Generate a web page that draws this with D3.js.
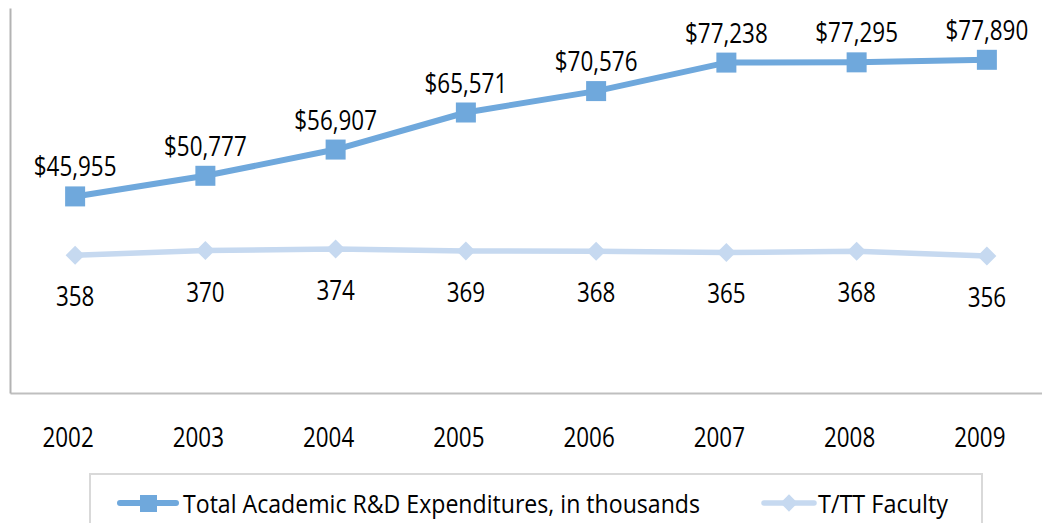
<!DOCTYPE html>
<html>
<head>
<meta charset="utf-8">
<script src="https://cdn.jsdelivr.net/npm/d3@7"></script>
<style>
  html, body { margin: 0; padding: 0; background: #fff; overflow: hidden; }
  svg { display: block; }
  text { font-family: "Open Sans", Lato, sans-serif; fill: #000; }
</style>
</head>
<body>
<svg id="chart" width="1042" height="523"></svg>
<script>
// Academic R&D spending vs tenured / tenure-track faculty, 2002-2009
const years = ["2002", "2003", "2004", "2005", "2006", "2007", "2008", "2009"];
const rdExpenditures = [45955, 50777, 56907, 65571, 70576, 77238, 77295, 77890];
const faculty = [358, 370, 374, 369, 368, 365, 368, 356];
const seriesNames = ["Total Academic R&D Expenditures, in thousands", "T/TT Faculty"];

const plot = { left: 10, right: 1052, top: 8, bottom: 393 };
const fontSize = 27;
const squeeze = 0.83;   // horizontal text compression

const blue = "#6fa8dc";
const light = "#c6d9f0";

const svg = d3.select("#chart");

const x = d3.scaleBand().domain(years).range([plot.left, plot.right]);
const cx = d => x(d) + x.bandwidth() / 2;
const yLeft = d3.scaleLinear().domain([0, 90000]).range([plot.bottom, plot.top]);
const yRight = d3.scaleLinear().domain([0, 1000]).range([plot.bottom, plot.top]);

function label(g, str, px, py, anchor = "middle") {
  return g.append("text")
    .attr("transform", `translate(${px},${py}) scale(${squeeze},1)`)
    .attr("text-anchor", anchor)
    .attr("font-size", fontSize)
    .text(str);
}

// axes (no ticks, just the lines)
const xAxis = d3.axisBottom(x).tickSize(0).tickFormat("");
svg.append("g").attr("transform", `translate(0,${plot.bottom})`).call(xAxis)
  .call(g => g.select(".domain").attr("stroke", "#bfbfbf").attr("stroke-width", 2));
const yAxis = d3.axisLeft(yLeft).tickSize(0).tickValues([]);
svg.append("g").attr("transform", `translate(${plot.left},0)`).call(yAxis)
  .call(g => g.select(".domain").attr("stroke", "#b3b3b3").attr("stroke-width", 2));

// year labels (sit slightly left of the category centre)
const yearG = svg.append("g");
years.forEach(yr => label(yearG, yr, cx(yr) - 7, 447));

// faculty line (secondary scale)
const facData = years.map((yr, i) => ({ yr, v: faculty[i] }));
svg.append("path").datum(facData)
  .attr("fill", "none").attr("stroke", light).attr("stroke-width", 5.5)
  .attr("stroke-linejoin", "round")
  .attr("d", d3.line().x(d => cx(d.yr)).y(d => yRight(d.v)));
svg.append("g").selectAll("path").data(facData).join("path")
  .attr("d", d3.symbol(d3.symbolDiamond2, 230))
  .attr("transform", d => `translate(${cx(d.yr)},${yRight(d.v)})`)
  .attr("fill", light);
const facLab = svg.append("g");
facData.forEach(d => label(facLab, d3.format("d")(d.v), cx(d.yr), yRight(d.v) + 51));

// R&D line (primary scale)
const rdData = years.map((yr, i) => ({ yr, v: rdExpenditures[i] }));
svg.append("path").datum(rdData)
  .attr("fill", "none").attr("stroke", blue).attr("stroke-width", 6)
  .attr("stroke-linejoin", "round")
  .attr("d", d3.line().x(d => cx(d.yr)).y(d => yLeft(d.v)));
svg.append("g").selectAll("rect").data(rdData).join("rect")
  .attr("x", d => cx(d.yr) - 10).attr("y", d => yLeft(d.v) - 10)
  .attr("width", 20).attr("height", 20)
  .attr("fill", blue);
const rdLab = svg.append("g");
rdData.forEach(d => label(rdLab, d3.format("$,")(d.v), cx(d.yr), yLeft(d.v) - 20));

// legend
const lg = svg.append("g");
lg.append("rect").attr("x", 90).attr("y", 474).attr("width", 892).attr("height", 80)
  .attr("fill", "#fff").attr("stroke", "#d9d9d9").attr("stroke-width", 2);
lg.append("line").attr("x1", 120).attr("x2", 176).attr("y1", 503).attr("y2", 503)
  .attr("stroke", blue).attr("stroke-width", 6).attr("stroke-linecap", "round");
lg.append("rect").attr("x", 140).attr("y", 495).attr("width", 17).attr("height", 17).attr("fill", blue);
lg.append("text").attr("x", 183).attr("y", 513).attr("font-size", fontSize - 1)
  .attr("textLength", 517).attr("lengthAdjust", "spacingAndGlyphs").text(seriesNames[0]);
lg.append("line").attr("x1", 764).attr("x2", 814).attr("y1", 503).attr("y2", 503)
  .attr("stroke", light).attr("stroke-width", 5.5).attr("stroke-linecap", "round");
lg.append("path").attr("d", d3.symbol(d3.symbolDiamond2, 190))
  .attr("transform", "translate(789,503)").attr("fill", light);
lg.append("text").attr("x", 818).attr("y", 513).attr("font-size", fontSize - 1)
  .attr("textLength", 130).attr("lengthAdjust", "spacingAndGlyphs").text(seriesNames[1]);
</script>
</body>
</html>
